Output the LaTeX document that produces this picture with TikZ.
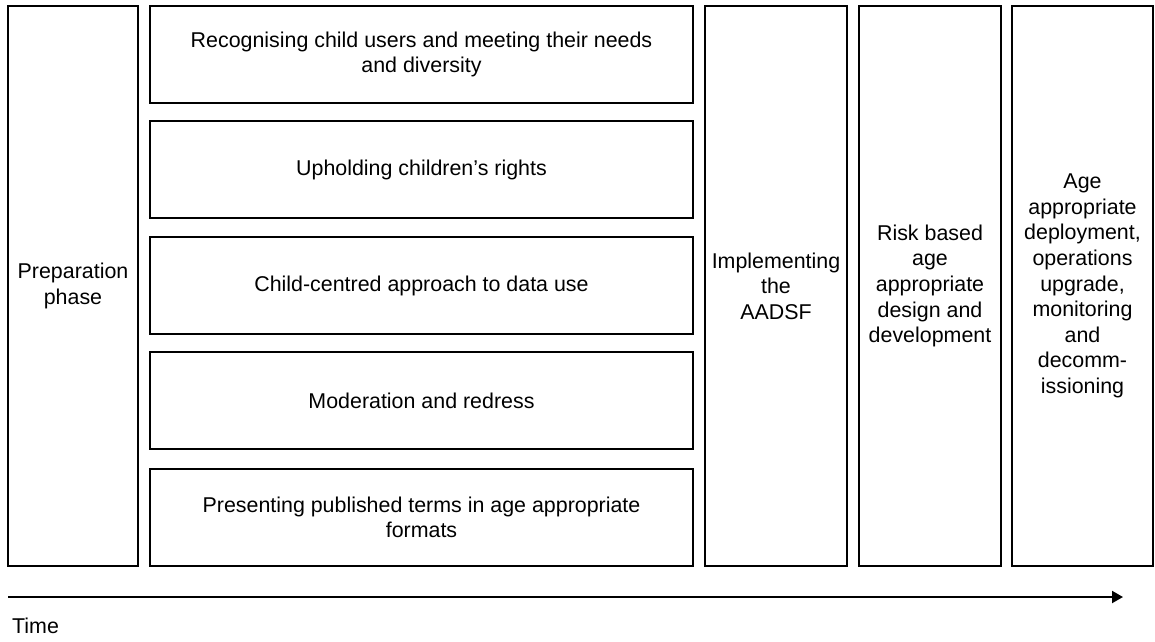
\documentclass[tikz,border=0pt]{standalone}
\usepackage{fontspec}
\setmainfont{Liberation Sans}
\usetikzlibrary{arrows.meta}
\tikzstyle{stage}=[draw, line width=2pt, align=center, inner sep=0pt]
\tikzstyle{column}=[stage, minimum height=560pt]
\tikzstyle{aspect}=[stage, minimum width=543pt, minimum height=97pt]
\tikzstyle{timeline}=[line width=2pt, -{Triangle[length=11pt, width=12pt]}]

\begin{document}
\begin{tikzpicture}[x=1pt, y=-1pt, font=\fontsize{21.4}{25.6}\selectfont]
  \useasboundingbox (0,0) rectangle (1155,641);

  \node[column, minimum width=130pt] (prep) at (73, 286) {Preparation\\phase};

  \node[aspect] (users) at (421.5, 54.5) {Recognising child users and meeting their needs\\and diversity};
  \node[aspect] (rights) at (421.5, 169.5) {Upholding children’s rights};
  \node[aspect] (data) at (421.5, 285.5) {Child-centred approach to data use};
  \node[aspect] (redress) at (421.5, 400.5) {Moderation and redress};
  \node[aspect] (terms) at (421.5, 517.5) {Presenting published terms in age appropriate\\formats};

  \node[column, minimum width=142pt] (impl) at (776, 286) {Implementing\\the\\AADSF};
  \node[column, minimum width=142pt] (risk) at (930, 286) {Risk based\\age\\appropriate\\design and\\development};
  \node[column, minimum width=141pt] (deploy) at (1082.5, 286)
    {Age\\appropriate\\deployment,\\operations\\upgrade,\\monitoring\\and\\decomm-\\issioning};

  \coordinate (start) at (8, 597);
  \coordinate (end) at (1123, 597);
  \draw[timeline] (start) -- (end);
  \node[anchor=base west, inner sep=0pt] (time) at (12, 633) {Time};
\end{tikzpicture}
\end{document}
